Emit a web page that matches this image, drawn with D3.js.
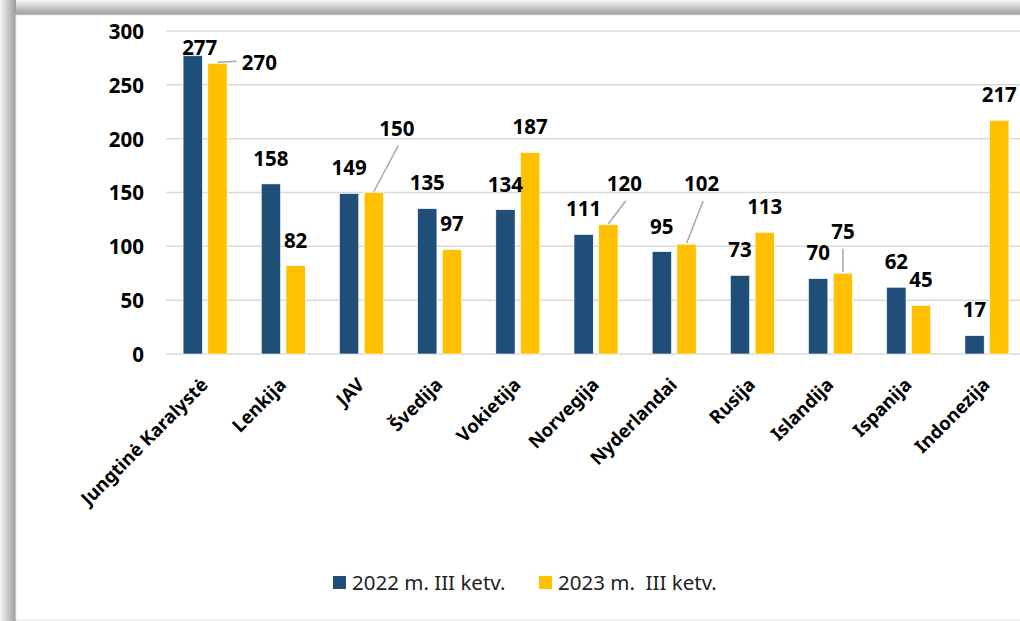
<!DOCTYPE html>
<html>
<head>
<meta charset="utf-8">
<script src="https://cdn.jsdelivr.net/npm/d3@7"></script>
<style>
  body { margin: 0; background: #fff; }
  svg { display: block; }
</style>
</head>
<body>
<div id="chart"></div>
<script>
// Chart data
const countries = ["Jungtinė Karalystė", "Lenkija", "JAV", "Švedija", "Vokietija", "Norvegija",
                   "Nyderlandai", "Rusija", "Islandija", "Ispanija", "Indonezija"];
const values2022 = [277, 158, 149, 135, 134, 111, 95, 73, 70, 62, 17];
const values2023 = [270, 82, 150, 97, 187, 120, 102, 113, 75, 45, 217];
const seriesNames = ["2022 m. III ketv.", "2023 m.  III ketv."];
const yTicks = [0, 50, 100, 150, 200, 250, 300];

// Hand-placed label nudges (px) for labels moved off their default spot
const nudge2022 = { 0: [7, 17.5] };
const nudge2023 = { 0: [42, 24.5], 2: [23, -38.5], 5: [16, -15.5], 6: [15, -34.5], 8: [0, -16] };

const W = 1020, H = 621;
const colors = ["#1f4e79", "#ffc000"];
const font = "'Noto Sans', sans-serif";

const svg = d3.select("#chart").append("svg")
  .attr("width", W)
  .attr("height", H);

// Shadowed frame
const defs = svg.append("defs");
const gTop = defs.append("linearGradient").attr("id", "shTop").attr("x1", 0).attr("y1", 0).attr("x2", 0).attr("y2", 1);
gTop.append("stop").attr("offset", "0%").attr("stop-color", "#f7f7f7");
gTop.append("stop").attr("offset", "100%").attr("stop-color", "#9a9a9a");
const gLeft = defs.append("linearGradient").attr("id", "shLeft").attr("x1", 0).attr("y1", 0).attr("x2", 1).attr("y2", 0);
gLeft.append("stop").attr("offset", "0%").attr("stop-color", "#f7f7f7");
gLeft.append("stop").attr("offset", "100%").attr("stop-color", "#9a9a9a");

svg.append("rect").attr("x", 0).attr("y", 0).attr("width", W).attr("height", 15).attr("fill", "url(#shTop)");
svg.append("rect").attr("x", 0).attr("y", 0).attr("width", 16).attr("height", H).attr("fill", "url(#shLeft)");
svg.append("rect").attr("x", 16).attr("y", 15).attr("width", W).attr("height", H - 16)
  .attr("fill", "#fff").attr("stroke", "#e6e6e6").attr("stroke-width", 1);

// Scales
const plotLeft = 166, plotRight = 1026, plotTop = 31, plotBottom = 354;

const x0 = d3.scaleBand()
  .domain(countries)
  .range([plotLeft, plotRight]);

const x1 = d3.scaleBand()
  .domain([0, 1])
  .range([x0.bandwidth() / 2 - 22, x0.bandwidth() / 2 + 22])
  .paddingInner(0.22);

const y = d3.scaleLinear()
  .domain([0, 300])
  .range([plotBottom, plotTop]);

// Gridlines
svg.append("g")
  .selectAll("line")
  .data(yTicks)
  .enter()
  .append("line")
  .attr("x1", plotLeft)
  .attr("x2", W)
  .attr("y1", d => y(d))
  .attr("y2", d => y(d))
  .attr("stroke", "#d9d9d9")
  .attr("stroke-width", 1.5);

// Y axis labels
const yAxis = svg.append("g")
  .attr("transform", `translate(${plotLeft - 22},0)`)
  .call(d3.axisLeft(y).tickValues(yTicks).tickSize(0).tickPadding(0));
yAxis.select(".domain").remove();
yAxis.selectAll("text")
  .attr("font-family", font)
  .attr("font-weight", "bold")
  .attr("font-size", 20.5)
  .attr("fill", "#000")
  .attr("dy", "0.36em");

// Bars
const rows = countries.map((c, i) => ({ c, i, vals: [values2022[i], values2023[i]] }));
const groups = svg.append("g")
  .selectAll("g")
  .data(rows)
  .enter()
  .append("g")
  .attr("transform", d => `translate(${x0(d.c)},0)`);

groups.selectAll("rect")
  .data(d => d.vals.map((v, s) => ({ v, s })))
  .enter()
  .append("rect")
  .attr("x", d => x1(d.s))
  .attr("y", d => y(d.v))
  .attr("width", x1.bandwidth())
  .attr("height", d => y(0) - y(d.v))
  .attr("fill", d => colors[d.s])
  .attr("stroke", "#fff")
  .attr("stroke-width", 0.6);

// Data labels (with leader lines where moved)
const labels = [];
rows.forEach(r => {
  r.vals.forEach((v, s) => {
    const bx = x0(r.c) + x1(s) + x1.bandwidth() / 2;
    const by = y(v);
    const n = (s === 0 ? nudge2022 : nudge2023)[r.i];
    const cx = bx + (n ? n[0] : 0);
    const cy = by - 25.5 + (n ? n[1] : 0);
    labels.push({ v, bx, by, cx, cy, leader: s === 1 && !!n });
  });
});

svg.append("g")
  .selectAll("line")
  .data(labels.filter(d => d.leader))
  .enter()
  .append("line")
  .attr("x1", d => d.bx)
  .attr("y1", d => d.by - 1)
  .attr("x2", d => d.cx - d.bx > 30 ? d.cx - 23 : d.cx + (d.cx - d.bx > 0 ? 1.5 : 0))
  .attr("y2", d => d.cx - d.bx > 30 ? d.cy - 1 : d.cy + 17)
  .attr("stroke", "#a6a6a6")
  .attr("stroke-width", 1.5);

svg.append("g")
  .selectAll("text")
  .data(labels)
  .enter()
  .append("text")
  .attr("x", d => d.cx)
  .attr("y", d => d.cy + 7.3)
  .attr("text-anchor", "middle")
  .attr("font-family", font)
  .attr("font-weight", "bold")
  .attr("font-size", 20.5)
  .attr("fill", "#000")
  .text(d => d.v);

// Category labels, rotated
svg.append("g")
  .selectAll("text")
  .data(countries)
  .enter()
  .append("text")
  .attr("transform", d => `translate(${x0(d) + x0.bandwidth() / 2 + 4},${386}) rotate(-45)`)
  .attr("text-anchor", "end")
  .attr("font-family", font)
  .attr("font-weight", "bold")
  .attr("font-size", 18.5)
  .attr("fill", "#000")
  .text(d => d);

// Legend
const legend = svg.append("g");
const legendX = [333, 539];
seriesNames.forEach((name, s) => {
  legend.append("rect")
    .attr("x", legendX[s])
    .attr("y", 576)
    .attr("width", 13)
    .attr("height", 13)
    .attr("fill", colors[s]);
  legend.append("text")
    .attr("x", legendX[s] + 19)
    .attr("y", 590)
    .attr("font-family", font)
    .attr("font-size", 20.5)
    .attr("fill", "#222")
    .style("white-space", "pre")
    .text(name);
});
</script>
</body>
</html>
